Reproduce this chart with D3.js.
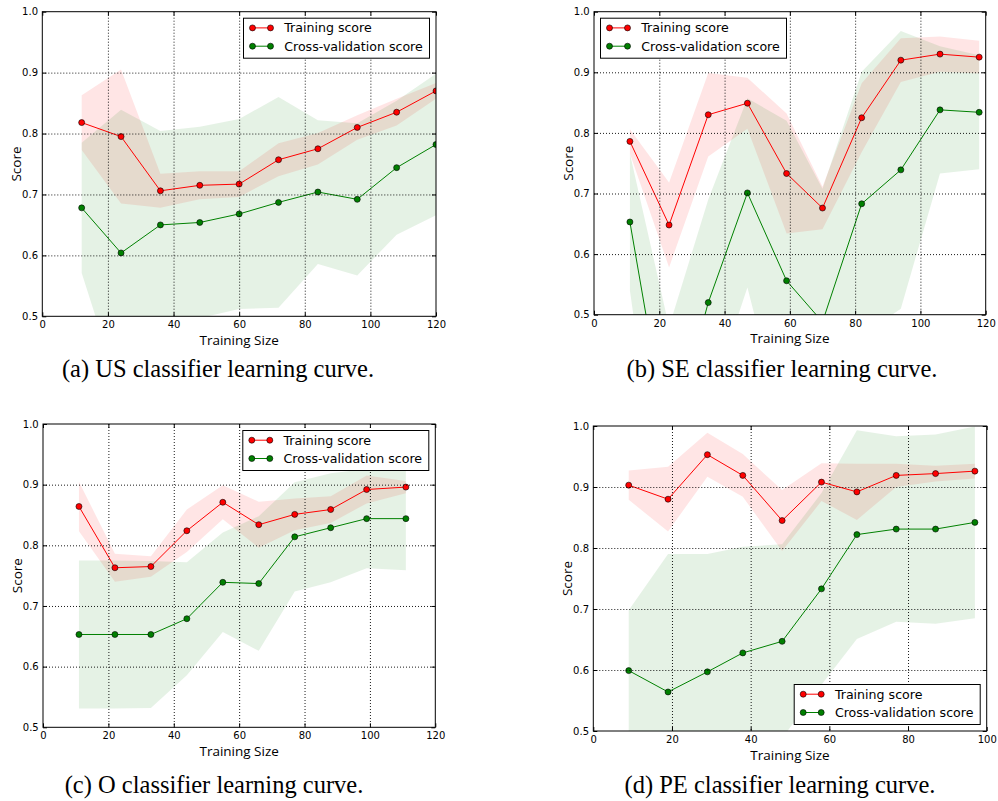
<!DOCTYPE html>
<html>
<head>
<meta charset="utf-8">
<script src="https://cdn.jsdelivr.net/npm/d3@7"></script>
<style>
  html, body { margin: 0; padding: 0; background: #fff; }
  svg { display: block; }
  .tick text { font-family: "DejaVu Sans", sans-serif; font-size: 10px; fill: #000; }
</style>
</head>
<body>
<svg id="chart" width="998" height="801"></svg>
<script>
// ---- data: learning curves of four classifiers ----
const sizesUS    = [12, 24, 36, 48, 60, 72, 84, 96, 108, 120];
const trainUS    = [0.818, 0.795, 0.706, 0.715, 0.717, 0.757, 0.775, 0.810, 0.835, 0.870];
const trainStdUS = [0.045, 0.110, 0.028, 0.023, 0.021, 0.027, 0.026, 0.020, 0.022, 0.013];
const cvUS       = [0.678, 0.604, 0.650, 0.654, 0.668, 0.687, 0.704, 0.692, 0.744, 0.782];
const cvStdUS    = [0.107, 0.235, 0.154, 0.157, 0.156, 0.173, 0.118, 0.125, 0.110, 0.116];

const sizesSE    = [11, 23, 35, 47, 59, 70, 82, 94, 106, 118];
const trainSE    = [0.786, 0.648, 0.830, 0.849, 0.733, 0.676, 0.825, 0.920, 0.930, 0.925];
const trainStdSE = [0.020, 0.070, 0.069, 0.042, 0.099, 0.035, 0.057, 0.036, 0.029, 0.027];
const cvSE       = [0.653, 0.280, 0.520, 0.701, 0.556, 0.488, 0.683, 0.739, 0.838, 0.834];
const cvStdSE    = [0.113, 0.200, 0.170, 0.156, 0.264, 0.220, 0.218, 0.229, 0.105, 0.094];

const sizesO     = [11, 22, 33, 44, 55, 66, 77, 88, 99, 111];
const trainO     = [0.864, 0.763, 0.765, 0.824, 0.871, 0.834, 0.851, 0.859, 0.892, 0.896];
const trainStdO  = [0.041, 0.023, 0.017, 0.035, 0.028, 0.038, 0.026, 0.022, 0.023, 0.010];
const cvO        = [0.653, 0.653, 0.653, 0.679, 0.739, 0.737, 0.814, 0.829, 0.844, 0.844];
const cvStdO     = [0.122, 0.122, 0.121, 0.093, 0.082, 0.111, 0.090, 0.090, 0.082, 0.085];

const sizesPE    = [9, 19, 29, 38, 48, 58, 67, 77, 87, 97];
const trainPE    = [0.903, 0.880, 0.953, 0.919, 0.845, 0.908, 0.892, 0.919, 0.922, 0.926];
const trainStdPE = [0.024, 0.053, 0.036, 0.035, 0.050, 0.031, 0.046, 0.019, 0.013, 0.012];
const cvPE       = [0.599, 0.564, 0.597, 0.628, 0.647, 0.733, 0.822, 0.831, 0.831, 0.842];
const cvStdPE    = [0.099, 0.226, 0.193, 0.174, 0.159, 0.157, 0.171, 0.152, 0.155, 0.157];

const xTicks120 = [0, 20, 40, 60, 80, 100, 120];
const xTicks100 = [0, 20, 40, 60, 80, 100];
const yTicks    = [0.5, 0.6, 0.7, 0.8, 0.9, 1.0];
const seriesLabels = ["Training score", "Cross-validation score"];
const captions = [
  "(a) US classifier learning curve.",
  "(b) SE classifier learning curve.",
  "(c) O classifier learning curve.",
  "(d) PE classifier learning curve."
];

// ---- layout & style ----
const RED = "#ff0000", GREEN = "#008000";
const panels = [
  { sizes: sizesUS, train: trainUS, trainStd: trainStdUS, cv: cvUS, cvStd: cvStdUS,
    xMax: 120, xTicks: xTicks120, box: { l: 42.3, r: 436, t: 11.7, b: 316.3 },
    legend: "upper right", caption: captions[0], capX: 218, capY: 376.5 },
  { sizes: sizesSE, train: trainSE, trainStd: trainStdSE, cv: cvSE, cvStd: cvStdSE,
    xMax: 120, xTicks: xTicks120, box: { l: 594, r: 985.7, t: 11.7, b: 314.7 },
    legend: "upper left", caption: captions[1], capX: 782, capY: 376.5 },
  { sizes: sizesO, train: trainO, trainStd: trainStdO, cv: cvO, cvStd: cvStdO,
    xMax: 120, xTicks: xTicks120, box: { l: 43, r: 435.3, t: 424, b: 727.3 },
    legend: "upper right", caption: captions[2], capX: 214, capY: 793 },
  { sizes: sizesPE, train: trainPE, trainStd: trainStdPE, cv: cvPE, cvStd: cvStdPE,
    xMax: 100, xTicks: xTicks100, box: { l: 593.3, r: 986.7, t: 426, b: 731 },
    legend: "lower right", caption: captions[3], capX: 780, capY: 793 }
];

const svg = d3.select("#chart");

panels.forEach((p, pi) => {
  const { l, r, t, b } = p.box;
  const w = r - l, h = b - t;
  const x = d3.scaleLinear().domain([0, p.xMax]).range([0, w]);
  const y = d3.scaleLinear().domain([0.5, 1.0]).range([h, 0]);

  const g = svg.append("g").attr("transform", `translate(${l},${t})`);

  const clipId = "clip" + pi;
  g.append("clipPath").attr("id", clipId)
    .append("rect").attr("width", w).attr("height", h);
  const plot = g.append("g").attr("clip-path", `url(#${clipId})`);

  const idx = d3.range(p.sizes.length);

  // standard deviation bands
  const band = (mean, sd) => d3.area()
    .x(i => x(p.sizes[i]))
    .y0(i => y(mean[i] - sd[i]))
    .y1(i => y(mean[i] + sd[i]));
  plot.append("path").datum(idx)
    .attr("d", band(p.train, p.trainStd)(idx))
    .attr("fill", RED).attr("fill-opacity", 0.1);
  plot.append("path").datum(idx)
    .attr("d", band(p.cv, p.cvStd)(idx))
    .attr("fill", GREEN).attr("fill-opacity", 0.1);

  // dotted grid
  const gridStyle = sel => {
    sel.select(".domain").remove();
    sel.selectAll(".tick line")
      .attr("stroke", "#000").attr("stroke-width", 0.9)
      .attr("stroke-dasharray", "1,2");
  };
  g.append("g")
    .call(d3.axisBottom(x).tickValues(p.xTicks.filter(v => v > 0 && v < p.xMax))
      .tickSize(h).tickFormat(""))
    .call(gridStyle);
  g.append("g")
    .call(d3.axisLeft(y).tickValues(yTicks.filter(v => v > 0.5 && v < 1.0))
      .tickSize(-w).tickFormat(""))
    .call(gridStyle);

  // curves with markers
  const line = mean => d3.line().x(i => x(p.sizes[i])).y(i => y(mean[i]));
  [[p.train, RED], [p.cv, GREEN]].forEach(([mean, color]) => {
    plot.append("path").attr("d", line(mean)(idx))
      .attr("fill", "none").attr("stroke", color).attr("stroke-width", 1);
    plot.selectAll(null).data(idx).enter().append("circle")
      .attr("cx", i => x(p.sizes[i])).attr("cy", i => y(mean[i]))
      .attr("r", 3).attr("fill", color)
      .attr("stroke", "#000").attr("stroke-width", 0.6);
  });

  // axes: inward ticks on all four sides
  const tickStyle = sel => {
    sel.select(".domain").remove();
    sel.selectAll(".tick line").attr("stroke", "#000").attr("stroke-width", 1);
  };
  g.append("g").attr("transform", `translate(0,${h})`)
    .call(d3.axisBottom(x).tickValues(p.xTicks).tickFormat(d3.format("d"))
      .tickSizeInner(-4).tickSizeOuter(0).tickPadding(4.9))
    .call(tickStyle);
  g.append("g")
    .call(d3.axisTop(x).tickValues(p.xTicks).tickFormat("")
      .tickSizeInner(-4).tickSizeOuter(0))
    .call(tickStyle);
  g.append("g")
    .call(d3.axisLeft(y).tickValues(yTicks).tickFormat(d3.format(".1f"))
      .tickSizeInner(-4).tickSizeOuter(0).tickPadding(4.3))
    .call(tickStyle);
  g.append("g").attr("transform", `translate(${w},0)`)
    .call(d3.axisRight(y).tickValues(yTicks).tickFormat("")
      .tickSizeInner(-4).tickSizeOuter(0))
    .call(tickStyle);

  // frame
  g.append("rect").attr("width", w).attr("height", h)
    .attr("fill", "none").attr("stroke", "#000").attr("stroke-width", 1);

  // axis titles
  g.append("text")
    .attr("x", w / 2).attr("y", h + 23.5)
    .attr("text-anchor", "middle").attr("dominant-baseline", "central")
    .style("font-family", "'Open Sans', sans-serif").style("font-size", "13.5px")
    .text("Training Size");
  g.append("text")
    .attr("transform", `translate(-26,${h / 2}) rotate(-90)`)
    .attr("text-anchor", "middle").attr("dominant-baseline", "central")
    .style("font-family", "'Open Sans', sans-serif").style("font-size", "13.5px")
    .text("Score");

  // legend
  const lw = 186, lh = 40, inset = 6.5;
  const lx = p.legend.includes("right") ? w - inset - lw : inset;
  const ly = p.legend.includes("upper") ? inset : h - inset - lh;
  const lg = g.append("g").attr("transform", `translate(${lx},${ly})`);
  lg.append("rect").attr("width", lw).attr("height", lh)
    .attr("fill", "#fff").attr("stroke", "#000").attr("stroke-width", 1);
  [RED, GREEN].forEach((color, k) => {
    const ry = 9.7 + k * 18.3;
    lg.append("line").attr("x1", 9).attr("x2", 27).attr("y1", ry).attr("y2", ry)
      .attr("stroke", color).attr("stroke-width", 1);
    [9, 27].forEach(cx => lg.append("circle").attr("cx", cx).attr("cy", ry).attr("r", 3)
      .attr("fill", color).attr("stroke", "#000").attr("stroke-width", 0.6));
    lg.append("text").attr("x", 40.7).attr("y", ry + 4.6)
      .style("font-family", "'DejaVu Sans', sans-serif").style("font-size", "12.6px")
      .text(seriesLabels[k]);
  });

  // caption
  svg.append("text")
    .attr("x", p.capX).attr("y", p.capY)
    .attr("text-anchor", "middle")
    .style("font-family", "'Liberation Serif', serif").style("font-size", "24.5px")
    .text(p.caption);
});
</script>
</body>
</html>
